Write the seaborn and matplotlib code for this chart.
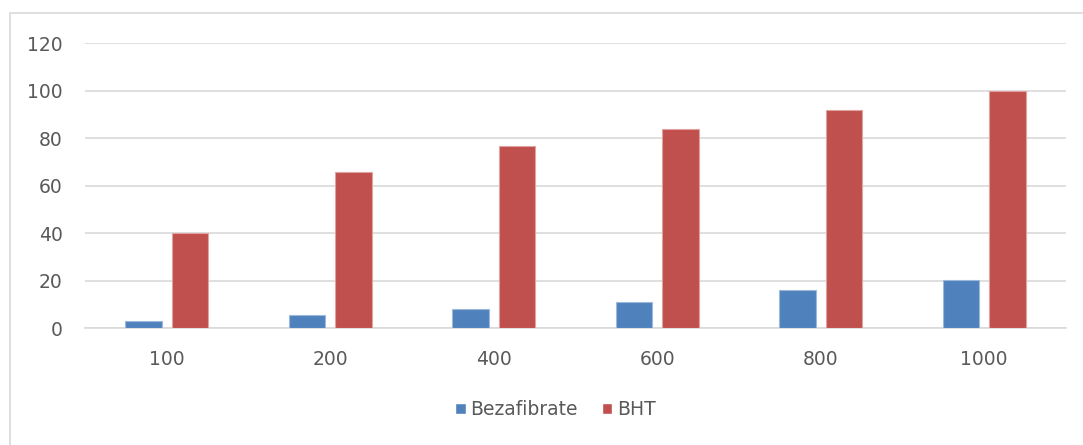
import matplotlib
matplotlib.use("Agg")
import matplotlib.pyplot as plt
from matplotlib.lines import Line2D
import seaborn as sns
import pandas as pd

concentrations = ["100", "200", "400", "600", "800", "1000"]
bezafibrate = [3.0, 5.3, 7.8, 11.0, 16.0, 20.3]
bht = [40.0, 65.8, 76.7, 83.6, 92.0, 99.6]
series_names = ["Bezafibrate", "BHT"]
colors = ["#4F81BD", "#C0504D"]
edge_colors = ["#9DB8DD", "#E0A3A2"]

df = pd.DataFrame({
    "conc": concentrations * 2,
    "value": bezafibrate + bht,
    "series": [series_names[0]] * len(concentrations) + [series_names[1]] * len(concentrations),
})

sns.set_theme(style="white")
plt.rcParams["font.family"] = ["DejaVu Sans"]

fig = plt.figure(figsize=(10.83, 4.45), dpi=100)
ax = fig.add_axes([0.0785, 0.2629, 0.9058, 0.6404])

sns.barplot(data=df, x="conc", y="value", hue="series", order=concentrations,
            hue_order=series_names, palette=colors, width=0.57, gap=0.215,
            ax=ax, errorbar=None, saturation=1, zorder=3)

for container, ec in zip(ax.containers, edge_colors):
    for p in container:
        p.set_edgecolor(ec)
        p.set_linewidth(0.8)

ax.set_ylim(0, 120)
ax.set_yticks([0, 20, 40, 60, 80, 100, 120])
ax.set_xlim(-0.5, len(concentrations) - 0.5)
ax.yaxis.grid(True, color="#D9D9D9", linewidth=1.2, zorder=0)
ax.set_axisbelow(True)
for s in ["top", "right", "left"]:
    ax.spines[s].set_visible(False)
ax.spines["bottom"].set_color("#D9D9D9")
ax.spines["bottom"].set_linewidth(1.2)
ax.set_xlabel("")
ax.set_ylabel("")
ax.tick_params(axis="both", length=0, labelsize=13.5, labelcolor="#595959")
ax.tick_params(axis="x", pad=16)
ax.tick_params(axis="y", pad=16)

handles, labels = ax.get_legend_handles_labels()
ax.legend_.remove()
fig.legend(handles, labels, loc="center", bbox_to_anchor=(0.513, 0.079), ncol=2,
           frameon=False, fontsize=13.5, handlelength=0.55, handleheight=0.55,
           handletextpad=0.25, columnspacing=1.3, labelcolor="#595959")

# chart area border (left and top visible)
fig.add_artist(Line2D([10 / 1083, 10 / 1083], [0, 1 - 13 / 445], transform=fig.transFigure,
                      color="#D9D9D9", linewidth=1.2))
fig.add_artist(Line2D([10 / 1083, 1], [1 - 13 / 445, 1 - 13 / 445], transform=fig.transFigure,
                      color="#D9D9D9", linewidth=1.2))

fig.savefig("out.png", dpi=100, facecolor="white")
